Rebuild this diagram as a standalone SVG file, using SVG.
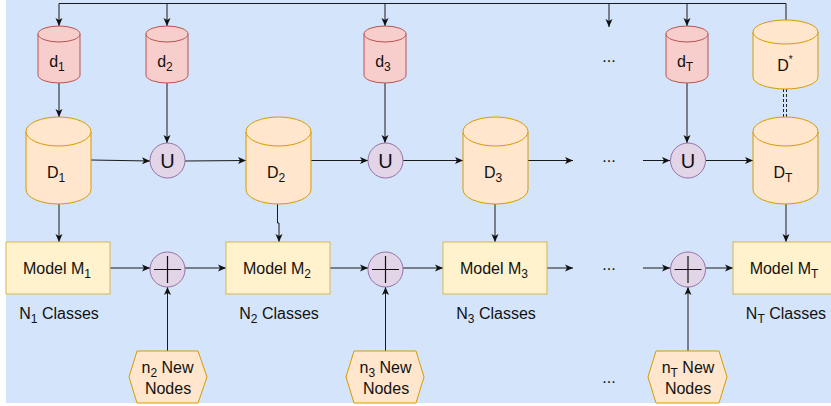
<svg xmlns="http://www.w3.org/2000/svg" width="831" height="406" viewBox="0 0 831 406">
  <defs>
    <marker id="arrow" markerUnits="userSpaceOnUse" markerWidth="10" markerHeight="8" refX="8" refY="4" orient="auto">
      <path d="M0,0.5 L8,4 L0,7.5 L2,4 Z" fill="#111"/>
    </marker>
    <style>
      text { font-family: "Liberation Sans", Arial, sans-serif; font-size: 16px; fill: #111; text-anchor: middle; }
      .sub { font-size: 12px; }
      .big { font-size: 20px; }
      .small-d { fill: #f8cecc; stroke: #b85450; stroke-width: 1; }
      .store { fill: #ffe6cc; stroke: #d79b00; stroke-width: 1; }
      .union { fill: #e1d5e7; stroke: #9673a6; stroke-width: 1; }
      .model { fill: #fff2cc; stroke: #d6b656; stroke-width: 1; }
      .hex { fill: #ffe6cc; stroke: #d79b00; stroke-width: 1; }
      .edge { fill: none; stroke: #1a1a1a; stroke-width: 1; }
      .arr { marker-end: url(#arrow); }
      .plus { stroke: #111; stroke-width: 1.2; }
      .dash { fill: none; stroke: #222; stroke-width: 1; stroke-dasharray: 3 2; }
    </style>
  </defs>

  <!-- backdrop -->
  <rect x="6" y="0" width="825" height="403" fill="#d3e4fb"/>

  <!-- connectors -->
  <g id="connectors">
    <!-- top feed line -->
    <path class="edge" d="M59,3.5 H786 V20"/>
    <path class="edge arr" d="M59,3.5 V26"/>
    <path class="edge arr" d="M167,3.5 V26"/>
    <path class="edge arr" d="M385,3.5 V26"/>
    <path class="edge arr" d="M609,3.5 V27"/>
    <path class="edge arr" d="M687,3.5 V26"/>

    <!-- small sets into stores / unions -->
    <path class="edge arr" d="M59,83 V117"/>
    <path class="edge arr" d="M167,83 V143"/>
    <path class="edge arr" d="M385,83 V143"/>
    <path class="edge arr" d="M687,83 V143"/>

    <!-- union row -->
    <path class="edge arr" d="M91,160 L150,161"/>
    <path class="edge arr" d="M185,161 L246,160.5"/>
    <path class="edge arr" d="M311,160.5 H368"/>
    <path class="edge arr" d="M403,160.5 H463"/>
    <path class="edge arr" d="M528,160.5 H573"/>
    <path class="edge arr" d="M643,160.5 H670"/>
    <path class="edge arr" d="M706,160.5 H753"/>

    <!-- dashed double link D* to D_T -->
    <path class="dash" d="M783.5,89 V117"/>
    <path class="dash" d="M786.5,89 V117"/>

    <!-- stores to models -->
    <path class="edge arr" d="M59,204 V242"/>
    <path class="edge arr" d="M277.5,204 V223 H279 V242"/>
    <path class="edge arr" d="M495,204 V242"/>
    <path class="edge arr" d="M786,204 V242"/>

    <!-- model row -->
    <path class="edge arr" d="M110,268 H150"/>
    <path class="edge arr" d="M185,268 H226"/>
    <path class="edge arr" d="M330,268 H368"/>
    <path class="edge arr" d="M403,268 H443"/>
    <path class="edge arr" d="M547,268 H573"/>
    <path class="edge arr" d="M643,268 H670"/>
    <path class="edge arr" d="M706,268 H733"/>

    <!-- new nodes into sums -->
    <path class="edge arr" d="M167.5,351 V287"/>
    <path class="edge arr" d="M385.5,351 V287"/>
    <path class="edge arr" d="M688,351 V287"/>
  </g>

  <!-- small incoming sets -->
  <g id="d1">
    <path class="small-d" d="M38,34 A21,8 0 0 1 80,34 L80,75 A21,8 0 0 1 38,75 Z"/>
    <path class="small-d" fill="none" d="M38,34 A21,8 0 0 0 80,34"/>
    <text x="57" y="67">d<tspan class="sub" dy="4">1</tspan></text>
  </g>
  <g id="d2">
    <path class="small-d" d="M146,34 A21,8 0 0 1 188,34 L188,75 A21,8 0 0 1 146,75 Z"/>
    <path class="small-d" fill="none" d="M146,34 A21,8 0 0 0 188,34"/>
    <text x="165" y="67">d<tspan class="sub" dy="4">2</tspan></text>
  </g>
  <g id="d3">
    <path class="small-d" d="M364,34 A21,8 0 0 1 406,34 L406,75 A21,8 0 0 1 364,75 Z"/>
    <path class="small-d" fill="none" d="M364,34 A21,8 0 0 0 406,34"/>
    <text x="383" y="67">d<tspan class="sub" dy="4">3</tspan></text>
  </g>
  <g id="dT">
    <path class="small-d" d="M666,34 A21,8 0 0 1 708,34 L708,75 A21,8 0 0 1 666,75 Z"/>
    <path class="small-d" fill="none" d="M666,34 A21,8 0 0 0 708,34"/>
    <text x="685" y="67">d<tspan class="sub" dy="4">T</tspan></text>
  </g>

  <!-- full store -->
  <g id="Dstar">
    <path class="store" d="M753,32 A32.5,12 0 0 1 818,32 L818,77 A32.5,12 0 0 1 753,77 Z"/>
    <path class="store" fill="none" d="M753,32 A32.5,12 0 0 0 818,32"/>
    <text x="785" y="71">D<tspan font-size="10px" dy="-8">*</tspan></text>
  </g>

  <!-- accumulated stores -->
  <g id="D1">
    <path class="store" d="M26,131.5 A32.5,14.5 0 0 1 91,131.5 L91,189.5 A32.5,14.5 0 0 1 26,189.5 Z"/>
    <path class="store" fill="none" d="M26,131.5 A32.5,14.5 0 0 0 91,131.5"/>
    <text x="56" y="178">D<tspan class="sub" dy="4">1</tspan></text>
  </g>
  <g id="D2">
    <path class="store" d="M246,131.5 A32.5,14.5 0 0 1 311,131.5 L311,189.5 A32.5,14.5 0 0 1 246,189.5 Z"/>
    <path class="store" fill="none" d="M246,131.5 A32.5,14.5 0 0 0 311,131.5"/>
    <text x="276" y="178">D<tspan class="sub" dy="4">2</tspan></text>
  </g>
  <g id="D3">
    <path class="store" d="M463,131.5 A32.5,14.5 0 0 1 528,131.5 L528,189.5 A32.5,14.5 0 0 1 463,189.5 Z"/>
    <path class="store" fill="none" d="M463,131.5 A32.5,14.5 0 0 0 528,131.5"/>
    <text x="493" y="178">D<tspan class="sub" dy="4">3</tspan></text>
  </g>
  <g id="DT">
    <path class="store" d="M753,131.5 A32.5,14.5 0 0 1 818,131.5 L818,189.5 A32.5,14.5 0 0 1 753,189.5 Z"/>
    <path class="store" fill="none" d="M753,131.5 A32.5,14.5 0 0 0 818,131.5"/>
    <text x="783" y="178">D<tspan class="sub" dy="4">T</tspan></text>
  </g>

  <!-- union operators -->
  <g id="U1">
    <circle class="union" cx="167.5" cy="160.5" r="17.5"/>
    <text class="big" x="167.5" y="168">U</text>
  </g>
  <g id="U2">
    <circle class="union" cx="385.5" cy="160.5" r="17.5"/>
    <text class="big" x="385.5" y="168">U</text>
  </g>
  <g id="U3">
    <circle class="union" cx="688" cy="160.5" r="17.5"/>
    <text class="big" x="688" y="168">U</text>
  </g>

  <!-- models -->
  <g id="M1">
    <rect class="model" x="6" y="242" width="104" height="52"/>
    <text x="57" y="274">Model M<tspan class="sub" dy="4">1</tspan></text>
    <text x="59" y="319">N<tspan class="sub" dy="4">1</tspan><tspan dy="-4"> Classes</tspan></text>
  </g>
  <g id="M2">
    <rect class="model" x="226" y="242" width="104" height="52"/>
    <text x="277" y="274">Model M<tspan class="sub" dy="4">2</tspan></text>
    <text x="279" y="319">N<tspan class="sub" dy="4">2</tspan><tspan dy="-4"> Classes</tspan></text>
  </g>
  <g id="M3">
    <rect class="model" x="443" y="242" width="104" height="52"/>
    <text x="494" y="274">Model M<tspan class="sub" dy="4">3</tspan></text>
    <text x="496" y="319">N<tspan class="sub" dy="4">3</tspan><tspan dy="-4"> Classes</tspan></text>
  </g>
  <g id="MT">
    <rect class="model" x="733" y="242" width="104" height="52"/>
    <text x="784" y="274">Model M<tspan class="sub" dy="4">T</tspan></text>
    <text x="786" y="319">N<tspan class="sub" dy="4">T</tspan><tspan dy="-4"> Classes</tspan></text>
  </g>

  <!-- sum operators -->
  <g id="S1">
    <circle class="union" cx="167.5" cy="269.5" r="17.5"/>
    <path class="plus" d="M154,269.5 H181 M167.5,256 V283"/>
  </g>
  <g id="S2">
    <circle class="union" cx="385.5" cy="269.5" r="17.5"/>
    <path class="plus" d="M372,269.5 H399 M385.5,256 V283"/>
  </g>
  <g id="S3">
    <circle class="union" cx="688" cy="269.5" r="17.5"/>
    <path class="plus" d="M674.5,269.5 H701.5 M688,256 V283"/>
  </g>

  <!-- new node batches -->
  <g id="n2">
    <polygon class="hex" points="129,377 137,351 198,351 207,377 198,403 137,403"/>
    <text x="167.5" y="373">n<tspan class="sub" dy="4">2</tspan><tspan dy="-4"> New</tspan></text>
    <text x="168" y="394">Nodes</text>
  </g>
  <g id="n3">
    <polygon class="hex" points="346,377 354,351 416,351 424,377 416,403 354,403"/>
    <text x="385.5" y="373">n<tspan class="sub" dy="4">3</tspan><tspan dy="-4"> New</tspan></text>
    <text x="386" y="394">Nodes</text>
  </g>
  <g id="nT">
    <polygon class="hex" points="648,377 656,351 719,351 727,377 719,403 656,403"/>
    <text x="688" y="373">n<tspan class="sub" dy="4">T</tspan><tspan dy="-4"> New</tspan></text>
    <text x="688" y="394">Nodes</text>
  </g>

  <!-- ellipses for omitted steps -->
  <g id="ellipsis">
    <text x="609" y="62">...</text>
    <text x="609" y="162">...</text>
    <text x="609" y="270">...</text>
    <text x="609" y="383">...</text>
  </g>
</svg>
